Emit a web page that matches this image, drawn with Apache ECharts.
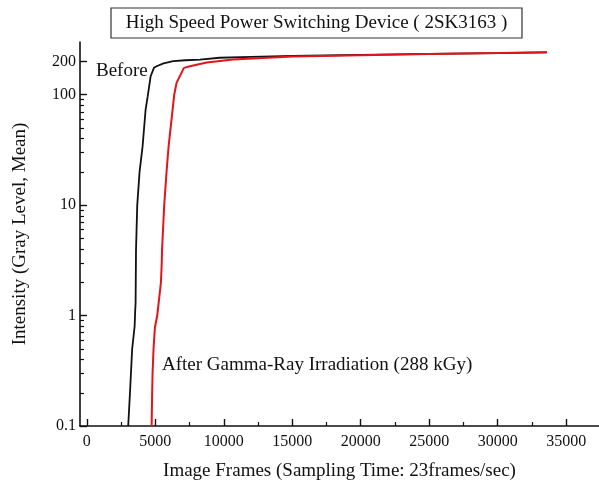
<!DOCTYPE html>
<html><head><meta charset="utf-8">
<script src="https://cdn.jsdelivr.net/npm/echarts@6/dist/echarts.min.js"></script>
<style>html,body{margin:0;padding:0;background:#fff}#c{width:599px;height:484px}</style>
</head><body><div id="c"></div>
<script>
const chartTitle = 'High Speed Power Switching Device ( 2SK3163 )';
const xAxisTitle = 'Image Frames (Sampling Time: 23frames/sec)';
const yAxisTitle = 'Intensity (Gray Level, Mean)';
const beforeLabel = 'Before';
const afterLabel = 'After Gamma-Ray Irradiation (288 kGy)';

const xTickValues = [0, 5000, 10000, 15000, 20000, 25000, 30000, 35000];
const xMinorTickValues = [2500, 7500, 12500, 17500, 22500, 27500, 32500];
const yTickValues = [0.1, 1, 10, 100, 200];
const yMinorTickValues = [0.2, 0.3, 0.4, 0.5, 0.6, 0.7, 0.8, 0.9, 2, 3, 4, 5, 6, 7, 8, 9, 20, 30, 40, 50, 60, 70, 80, 90];

const beforeFrames = [3020, 3150, 3310, 3490, 3530, 3560, 3590, 3680, 3850, 4070, 4290, 4440, 4660, 4900, 5090, 5600, 6310, 7200, 8260, 9700, 12000, 15000, 20000, 25000, 30000, 33600];
const beforeIntensity = [0.1, 0.2, 0.5, 0.8, 1.1, 1.3, 3.9, 10, 20, 34, 73, 96, 147, 175, 181, 192, 201, 205, 208, 216, 220, 224, 229, 234, 238, 242];

const afterFrames = [4730, 4770, 4800, 4870, 4970, 5140, 5410, 5470, 5490, 5650, 5820, 5970, 6260, 6380, 6550, 7090, 7530, 8750, 10680, 15000, 20000, 25000, 30000, 33600];
const afterIntensity = [0.1, 0.2, 0.3, 0.5, 0.78, 1, 2, 3, 3.9, 10, 20, 34, 73, 100, 128, 175, 181, 196, 208, 222, 228, 233, 238, 242];

const FONT = '"Liberation Serif", "Times New Roman", serif';
const chart = echarts.init(document.getElementById('c'), null, {renderer: 'canvas'});

const pairs = (xs, ys) => xs.map((x, i) => [x, ys[i]]);

chart.setOption({
  animation: false,
  backgroundColor: '#fff',
  grid: {left: 80, top: 42, right: 0, bottom: 58, containLabel: false, outerBoundsMode: 'none'},
  xAxis: [{
    type: 'value', min: -500, max: 37400,
    name: xAxisTitle, nameLocation: 'middle', nameGap: 36,
    nameTextStyle: {fontFamily: FONT, fontSize: 19, color: '#111'},
    axisLine: {show: true, onZero: false, lineStyle: {color: '#111', width: 1.6}},
    axisTick: {show: true, inside: true, length: 7, customValues: xTickValues, lineStyle: {color: '#111', width: 1.4}},
    axisLabel: {customValues: xTickValues, fontFamily: FONT, fontSize: 16, color: '#111', margin: 8,
      formatter: v => String(v)},
    splitLine: {show: false}
  }, {
    type: 'value', min: -500, max: 37400, position: 'bottom',
    axisLine: {show: false, onZero: false},
    axisTick: {show: true, inside: true, length: 4, customValues: xMinorTickValues, lineStyle: {color: '#111', width: 1.2}},
    axisLabel: {show: false},
    splitLine: {show: false}
  }],
  yAxis: [{
    type: 'log', logBase: 10, min: 0.1, max: 300,
    name: yAxisTitle, nameLocation: 'middle', nameGap: 50,
    nameTextStyle: {fontFamily: FONT, fontSize: 19, color: '#111'},
    axisLine: {show: true, onZero: false, lineStyle: {color: '#111', width: 1.6}},
    axisTick: {show: true, inside: true, length: 7, customValues: yTickValues, lineStyle: {color: '#111', width: 1.4}},
    axisLabel: {customValues: yTickValues, fontFamily: FONT, fontSize: 16, color: '#111', margin: 4,
      formatter: v => String(+(+v).toPrecision(6))},
    splitLine: {show: false}
  }, {
    type: 'log', logBase: 10, min: 0.1, max: 300, position: 'left',
    axisLine: {show: false, onZero: false},
    axisTick: {show: true, inside: true, length: 4, customValues: yMinorTickValues, lineStyle: {color: '#111', width: 1.2}},
    axisLabel: {show: false},
    splitLine: {show: false}
  }],
  series: [{
    name: 'Before', type: 'line', xAxisIndex: 0, yAxisIndex: 0,
    data: pairs(beforeFrames, beforeIntensity),
    showSymbol: false, symbol: 'none', z: 2,
    lineStyle: {color: '#111', width: 1.8}
  }, {
    name: 'After', type: 'line', xAxisIndex: 0, yAxisIndex: 0,
    data: pairs(afterFrames, afterIntensity),
    showSymbol: false, symbol: 'none', z: 3,
    lineStyle: {color: '#e3141b', width: 2}
  }],
  graphic: [
    {type: 'rect', shape: {x: 111, y: 8, width: 411, height: 30}, style: {fill: '#fff', stroke: '#333', lineWidth: 1.2}},
    {type: 'text', x: 316.5, y: 23, style: {text: chartTitle, font: '19px ' + FONT, fill: '#111', align: 'center', verticalAlign: 'middle'}},
    {type: 'text', x: 96, y: 71, style: {text: beforeLabel, font: '19px ' + FONT, fill: '#111', align: 'left', verticalAlign: 'middle'}},
    {type: 'text', x: 162, y: 365, style: {text: afterLabel, font: '19px ' + FONT, fill: '#111', align: 'left', verticalAlign: 'middle'}}
  ]
});
</script>
</body></html>
